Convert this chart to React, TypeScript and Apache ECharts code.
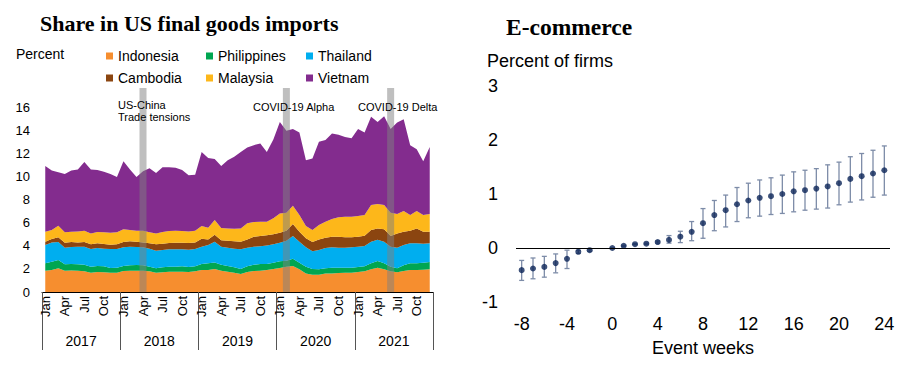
import React, { useEffect, useRef } from "react";
import * as echarts from "echarts";

// ---------- Left panel: Share in US final goods imports (percent) ----------
const years = ["2017", "2018", "2019", "2020", "2021"];
const monthNames = ["Jan", "Feb", "Mar", "Apr", "May", "Jun", "Jul", "Aug", "Sep", "Oct", "Nov", "Dec"];
const months = years.flatMap((y) => monthNames.map((m) => `${m} ${y}`));

const seriesNames = ["Indonesia", "Philippines", "Thailand", "Cambodia", "Malaysia", "Vietnam"];
const seriesColors = ["#F68E2F", "#00A651", "#00AEEF", "#8B4510", "#FDB71A", "#832C8E"];

const indonesia = [1.84, 1.90, 2.05, 1.84, 1.87, 1.84, 1.79, 1.67, 1.73, 1.70, 1.67, 1.67,
  1.82, 1.84, 1.84, 1.84, 1.79, 1.67, 1.70, 1.76, 1.76, 1.76, 1.73, 1.79,
  1.90, 1.90, 1.99, 1.84, 1.76, 1.67, 1.56, 1.73, 1.82, 1.84, 1.90, 1.99,
  2.07, 2.19, 2.25, 1.96, 1.61, 1.50, 1.50, 1.59, 1.61, 1.64, 1.67, 1.67,
  1.73, 1.79, 1.96, 2.10, 1.96, 1.79, 1.70, 1.82, 1.90, 1.90, 1.93, 1.96];
const philippines = [0.64, 0.72, 0.72, 0.55, 0.55, 0.55, 0.57, 0.52, 0.52, 0.52, 0.40, 0.43,
  0.43, 0.47, 0.49, 0.47, 0.40, 0.38, 0.43, 0.43, 0.43, 0.46, 0.43, 0.43,
  0.52, 0.58, 0.57, 0.52, 0.49, 0.46, 0.43, 0.49, 0.54, 0.58, 0.52, 0.55,
  0.58, 0.52, 0.63, 0.58, 0.58, 0.49, 0.46, 0.46, 0.49, 0.46, 0.43, 0.43,
  0.43, 0.43, 0.52, 0.58, 0.52, 0.40, 0.35, 0.49, 0.58, 0.58, 0.61, 0.63];
const thailand = [1.58, 1.67, 1.55, 1.44, 1.47, 1.53, 1.56, 1.53, 1.55, 1.53, 1.65, 1.62,
  1.61, 1.61, 1.56, 1.55, 1.56, 1.52, 1.50, 1.50, 1.50, 1.47, 1.50, 1.50,
  1.50, 1.58, 1.79, 1.56, 1.58, 1.62, 1.70, 1.61, 1.56, 1.53, 1.61, 1.58,
  1.62, 1.73, 1.96, 1.81, 1.67, 1.53, 1.67, 1.75, 1.76, 1.73, 1.73, 1.76,
  1.76, 1.76, 1.87, 1.84, 1.87, 1.73, 1.78, 1.75, 1.73, 1.73, 1.64, 1.62];
const cambodia = [0.28, 0.30, 0.41, 0.44, 0.43, 0.37, 0.40, 0.40, 0.41, 0.40, 0.37, 0.40,
  0.46, 0.46, 0.46, 0.43, 0.46, 0.55, 0.55, 0.55, 0.58, 0.58, 0.58, 0.57,
  0.69, 0.49, 0.61, 0.55, 0.61, 0.63, 0.66, 0.72, 0.86, 0.89, 0.87, 0.87,
  0.86, 0.86, 1.04, 0.87, 0.78, 0.80, 0.92, 0.90, 0.92, 0.95, 0.90, 0.87,
  0.86, 0.89, 1.01, 0.98, 1.07, 0.92, 1.24, 1.16, 1.09, 1.29, 1.04, 1.01];
const malaysia = [0.88, 0.77, 1.00, 0.89, 0.90, 0.95, 0.98, 0.95, 0.98, 1.01, 1.04, 1.04,
  1.10, 0.98, 0.95, 1.01, 0.95, 0.95, 1.01, 1.03, 1.03, 1.00, 1.00, 1.01,
  1.10, 1.01, 1.26, 1.06, 1.06, 1.10, 1.15, 1.39, 1.27, 1.24, 1.18, 1.38,
  1.67, 1.56, 1.58, 1.44, 1.07, 1.04, 1.24, 1.38, 1.53, 1.68, 1.78, 1.78,
  1.79, 1.79, 2.16, 2.11, 2.10, 2.02, 1.67, 1.78, 1.36, 1.50, 1.44, 1.52];
const vietnam = [5.68, 5.14, 4.62, 5.04, 5.28, 5.36, 5.95, 5.53, 5.36, 5.24, 5.07, 4.79,
  5.88, 5.24, 4.65, 5.15, 5.54, 5.23, 5.61, 5.53, 5.45, 5.28, 4.86, 4.85,
  6.39, 6.04, 5.28, 5.37, 5.90, 6.22, 6.60, 6.56, 6.65, 6.77, 6.02, 6.83,
  7.90, 7.09, 6.64, 7.14, 5.69, 6.19, 7.21, 7.07, 7.39, 7.14, 6.89, 6.79,
  7.53, 7.14, 7.63, 7.09, 7.68, 7.24, 7.91, 7.95, 6.04, 5.35, 4.64, 5.81];
const seriesValues = [indonesia, philippines, thailand, cambodia, malaysia, vietnam];

const leftYTicks = { min: 0, max: 16, interval: 2 };

const eventMonths = ["Apr 2018", "Feb 2020", "Jun 2021"];

// ---------- Right panel: E-commerce event study ----------
const weeks = ["-8", "-7", "-6", "-5", "-4", "-3", "-2", "-1", "0", "1", "2", "3", "4", "5", "6", "7", "8",
  "9", "10", "11", "12", "13", "14", "15", "16", "17", "18", "19", "20", "21", "22", "23", "24"];
const estimate = [-0.41, -0.38, -0.35, -0.28, -0.2, -0.07, -0.04, null, 0, 0.04, 0.07, 0.08, 0.11, 0.15, 0.21, 0.3, 0.46,
  0.61, 0.7, 0.81, 0.88, 0.93, 0.96, 1.0, 1.05, 1.07, 1.1, 1.14, 1.2, 1.28, 1.33, 1.38, 1.44];
const lower = [-0.6, -0.57, -0.54, -0.46, -0.38, -0.1, -0.06, null, 0, 0.03, 0.06, 0.07, 0.09, 0.09, 0.1, 0.135, 0.18,
  0.32, 0.39, 0.49, 0.56, 0.59, 0.62, 0.64, 0.67, 0.7, 0.72, 0.74, 0.8, 0.85, 0.89, 0.94, 0.98];
const upper = [-0.23, -0.185, -0.155, -0.11, -0.04, -0.04, -0.02, null, 0, 0.05, 0.08, 0.09, 0.13, 0.23, 0.31, 0.49, 0.73,
  0.88, 0.98, 1.12, 1.2, 1.26, 1.3, 1.35, 1.41, 1.44, 1.47, 1.54, 1.59, 1.69, 1.75, 1.81, 1.89];
const rightYTicks = { min: -1, max: 3, interval: 1 };

const SANS = "'Liberation Sans', Arial, sans-serif";
const SERIF = "'Liberation Serif', 'Times New Roman', serif";

export default function App() {
  const ref = useRef<HTMLDivElement>(null);

  useEffect(() => {
    if (!ref.current) return;
    const chart = echarts.init(ref.current, undefined, { renderer: "svg" });

    const legendPos = [[106, 49], [206, 49], [306, 49], [106, 71], [206, 71], [306, 71]];

    const errData = weeks
      .map((w, i) => [i, lower[i], upper[i]])
      .filter((d) => d[1] !== null && d[2] !== null);

    const option: any = {
      animation: false,
      grid: [
        { left: 42, right: 475, top: 107, bottom: 98 },
        { left: 42, right: 475, top: 88, bottom: 98 },
        { left: 516, right: 18, top: 86, bottom: 88 },
      ],
      legend: seriesNames.map((n, i) => ({
        data: [n],
        left: legendPos[i][0],
        top: legendPos[i][1],
        itemWidth: 7,
        itemHeight: 7,
        padding: 0,
        icon: "rect",
        selectedMode: false,
        textStyle: { fontSize: 14, color: "#000", fontFamily: SANS },
      })),
      xAxis: [
        {
          type: "category",
          gridIndex: 0,
          data: months,
          boundaryGap: true,
          axisLine: { show: true, lineStyle: { color: "#000", width: 1 } },
          axisTick: {
            show: true,
            interval: (index: number) => index % 12 === 0,
            length: 58,
            lineStyle: { color: "#555", width: 1 },
          },
          axisLabel: {
            interval: (index: number) => index % 3 === 0,
            formatter: (v: string) => v.split(" ")[0],
            rotate: 90,
            fontSize: 13,
            color: "#000",
            fontFamily: SANS,
            margin: 4,
          },
          splitLine: { show: false },
        },
        {
          type: "category",
          gridIndex: 0,
          data: years,
          position: "bottom",
          axisLine: { show: false },
          axisTick: { show: false },
          axisLabel: { fontSize: 14, color: "#000", fontFamily: SANS, margin: 42 },
          splitLine: { show: false },
        },
        {
          type: "category",
          gridIndex: 1,
          data: months,
          boundaryGap: true,
          show: false,
        },
        {
          type: "category",
          gridIndex: 2,
          data: weeks,
          boundaryGap: true,
          axisLine: { show: false },
          axisTick: { show: false },
          axisLabel: { interval: 3, fontSize: 18, color: "#000", fontFamily: SANS, margin: 13 },
          splitLine: { show: false },
          name: "Event weeks",
          nameLocation: "middle",
          nameGap: 37,
          nameTextStyle: { fontSize: 18, color: "#000", fontFamily: SANS },
        },
      ],
      yAxis: [
        {
          type: "value",
          gridIndex: 0,
          ...leftYTicks,
          axisLine: { show: false },
          axisTick: { show: false },
          splitLine: { show: false },
          axisLabel: { fontSize: 13, color: "#000", fontFamily: SANS, margin: 12 },
        },
        { type: "value", gridIndex: 1, min: 0, max: 1, show: false },
        {
          type: "value",
          gridIndex: 2,
          ...rightYTicks,
          axisLine: { show: false },
          axisTick: { show: false },
          splitLine: { show: false },
          axisLabel: { fontSize: 18, color: "#000", fontFamily: SANS, margin: 18 },
        },
      ],
      series: [
        ...seriesNames.map((n, i) => ({
          name: n,
          type: "line",
          stack: "total",
          xAxisIndex: 0,
          yAxisIndex: 0,
          data: seriesValues[i],
          symbol: "none",
          color: seriesColors[i],
          lineStyle: { width: 0, color: seriesColors[i] },
          areaStyle: { color: seriesColors[i], opacity: 1 },
          z: 2,
        })),
        {
          name: "events",
          type: "bar",
          xAxisIndex: 2,
          yAxisIndex: 1,
          data: months.map((m) => (eventMonths.includes(m) ? 1 : null)),
          barWidth: 7,
          itemStyle: { color: "rgba(128,128,128,0.5)" },
          silent: true,
          z: 5,
        },
        {
          name: "errors",
          type: "custom",
          xAxisIndex: 3,
          yAxisIndex: 2,
          data: errData,
          encode: { x: 0, y: [1, 2] },
          renderItem: (params: any, api: any) => {
            const x = api.value(0);
            const lo = api.value(1);
            const hi = api.value(2);
            const a = api.coord([x, lo]);
            const b = api.coord([x, hi]);
            const w = 2.5;
            const st = { stroke: "#7d8ca8", lineWidth: 1.3 };
            return {
              type: "group",
              children: [
                { type: "line", shape: { x1: a[0], y1: a[1], x2: b[0], y2: b[1] }, style: st },
                { type: "line", shape: { x1: a[0] - w, y1: a[1], x2: a[0] + w, y2: a[1] }, style: st },
                { type: "line", shape: { x1: b[0] - w, y1: b[1], x2: b[0] + w, y2: b[1] }, style: st },
              ],
            };
          },
          z: 3,
        },
        {
          name: "estimate",
          type: "scatter",
          xAxisIndex: 3,
          yAxisIndex: 2,
          data: estimate,
          symbolSize: 6,
          itemStyle: { color: "#0B2458" },
          z: 4,
          markLine: {
            silent: true,
            symbol: "none",
            label: { show: false },
            lineStyle: { color: "#000", width: 1, type: "solid" },
            data: [{ yAxis: 0 }],
          },
        },
      ],
      graphic: [
        {
          type: "text",
          left: 40,
          top: 12,
          style: { text: "Share in US final goods imports", font: `bold 22px ${SERIF}`, fill: "#000" },
        },
        {
          type: "text",
          left: 506,
          top: 15,
          style: { text: "E-commerce", font: `bold 23.5px ${SERIF}`, fill: "#000" },
        },
        {
          type: "text",
          left: 16,
          top: 47,
          style: { text: "Percent", font: `14px ${SANS}`, fill: "#000" },
        },
        {
          type: "text",
          left: 487,
          top: 52,
          style: { text: "Percent of firms", font: `18px ${SANS}`, fill: "#000" },
        },
        {
          type: "text",
          left: 118,
          top: 99,
          z: 10,
          style: { text: "US-China\nTrade tensions", font: `11px ${SANS}`, fill: "#000", lineHeight: 12 },
        },
        {
          type: "text",
          left: 253,
          top: 101,
          z: 10,
          style: { text: "COVID-19 Alpha", font: `11px ${SANS}`, fill: "#000" },
        },
        {
          type: "text",
          left: 358,
          top: 101,
          z: 10,
          style: { text: "COVID-19 Delta", font: `11px ${SANS}`, fill: "#000" },
        },
      ],
    };

    chart.setOption(option);
    return () => chart.dispose();
  }, []);

  return (
    <div
      ref={ref}
      style={{ position: "fixed", left: 0, top: 0, width: 908, height: 390, background: "#fff" }}
    />
  );
}
